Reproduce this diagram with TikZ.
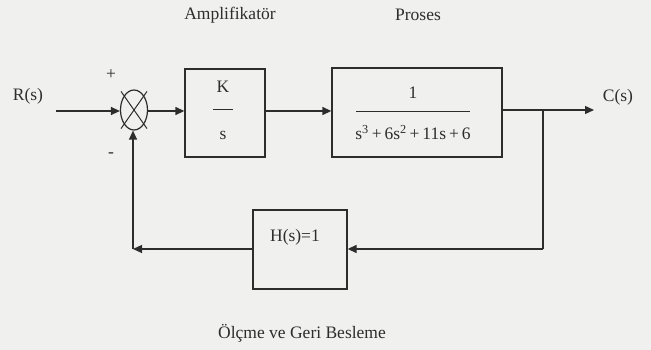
\documentclass[tikz,border=0pt]{standalone}
\usepackage{fontspec}
\setmainfont{Liberation Serif}
\usetikzlibrary{arrows.meta,shapes.geometric}
\definecolor{bg}{RGB}{240,240,238}
\definecolor{ink}{RGB}{45,45,45}
\begin{document}
\begin{tikzpicture}[x=1pt,y=-1pt,
  every node/.style={text=ink,font=\fontsize{17.5}{20}\selectfont},
  blk/.style={draw=ink,line width=1.3pt,rectangle,inner sep=0pt},
  conn/.style={draw=ink,line width=1.3pt},
  arr/.style={conn,-{Triangle[length=9pt,width=8pt]}},
  sumj/.style={draw=ink,line width=1.2pt,ellipse,inner sep=0pt,minimum width=27pt,minimum height=40pt}]
\fill[bg] (0,0) rectangle (651,350);
\useasboundingbox (0,0) rectangle (651,350);
% labels
\node (amp) at (230,15) {Amplifikatör};
\node (pro) at (418,15) {Proses};
\node (olc) at (302,333) {Ölçme ve Geri Besleme};
\node (R) at (28,96) {R(s)};
\node (C) at (618,97) {C(s)};
\node (plus) at (111,75) {+};
\node (minus) at (111,155) {-};
% summing junction
\node[sumj] (sum) at (134,110) {};
\draw[conn,line width=1pt] ([shift={(-3,-4)}]sum.north west) -- ([shift={(3,4)}]sum.south east);
\draw[conn,line width=1pt] ([shift={(3,-4)}]sum.north east) -- ([shift={(-3,4)}]sum.south west);
% blocks
\node[blk,minimum width=80pt,minimum height=88pt] (K) at (225,113) {};
\node (Kt) at (223,112) {\begin{tabular}{@{}c@{}}K\\[4pt]\rule[0.35em]{20pt}{1pt}\\[3pt]s\end{tabular}};
\node[blk,minimum width=170pt,minimum height=89pt] (P) at (417,112.5) {};
\node (Pt) at (413,115) {\begin{tabular}{@{}c@{}}1\\[0pt]\rule[0.35em]{114pt}{1pt}\\[1pt]s\textsuperscript{3}\,+\,6s\textsuperscript{2}\,+\,11s\,+\,6\end{tabular}};
\node[blk,minimum width=94pt,minimum height=79pt] (H) at (300,249.5) {};
\node (Ht) at (295,237) {H(s)=1};
% connectors
\coordinate (rin) at (56,111);
\coordinate (cout) at (594,110);
\coordinate (br) at (543,110);
\coordinate (brd) at (543,249);
\coordinate (fb) at (133,249);
\draw[arr] (rin) -- (sum.west |- rin);
\draw[arr] (sum.east |- rin) -- (K.west |- rin);
\draw[arr] (K.east |- rin) -- (P.west |- rin);
\draw[arr] (P.east |- cout) -- (cout);
\draw[conn] (br) -- (brd);
\draw[arr] (brd) -- (H.east |- brd);
\draw[arr] (H.west |- brd) -- (fb);
\draw[arr] (fb) -- (fb |- sum.south);
\end{tikzpicture}
\end{document}
